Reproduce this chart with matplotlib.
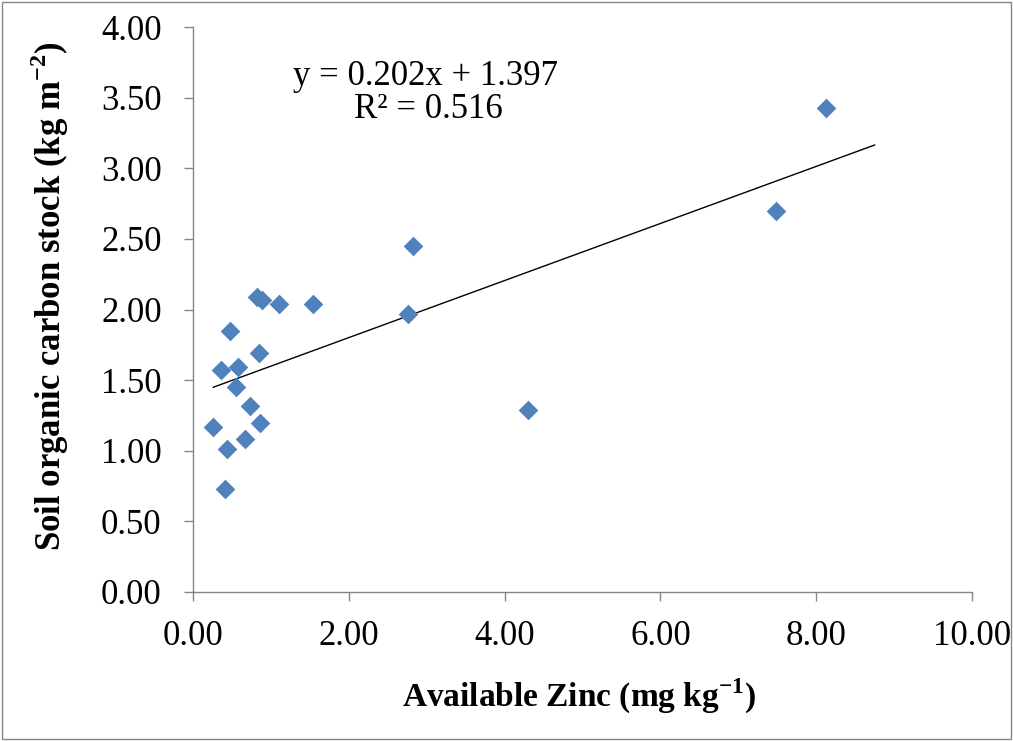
import matplotlib
matplotlib.use("Agg")
import matplotlib.pyplot as plt
import numpy as np
from matplotlib.patches import Rectangle

# Available zinc (mg/kg) and soil organic carbon stock (kg/m2)
zinc = [0.82, 0.88, 1.11, 1.54, 2.76, 0.47, 0.85, 0.36, 0.58, 0.55,
        0.73, 0.26, 0.86, 0.67, 0.44, 0.41, 8.13, 7.49, 2.82, 4.30]
soc = [2.09, 2.07, 2.04, 2.04, 1.97, 1.85, 1.69, 1.57, 1.59, 1.45,
       1.32, 1.17, 1.20, 1.08, 1.01, 0.73, 3.43, 2.70, 2.45, 1.29]

slope = 0.202
intercept = 1.397
r_squared = 0.516
trend_end = 8.75

x_ticks = [0, 2, 4, 6, 8, 10]
y_ticks = [0, 0.5, 1.0, 1.5, 2.0, 2.5, 3.0, 3.5, 4.0]

plt.rcParams['font.family'] = ['Liberation Serif', 'DejaVu Serif']
plt.rcParams['mathtext.fontset'] = 'custom'
plt.rcParams['mathtext.rm'] = 'Liberation Serif'
plt.rcParams['mathtext.bf'] = 'Liberation Serif:bold'

fig = plt.figure(figsize=(10.13, 7.41), dpi=100)
W, H = 1013, 741
ax = fig.add_axes([193 / W, 1 - 592 / H, (972 - 193) / W, (592 - 27) / H])

ax.scatter(zinc, soc, marker='D', s=100, color='#4F81BD', zorder=3, linewidths=0)

xt = np.array([min(zinc), trend_end])
ax.plot(xt, slope * xt + intercept, color='black', linewidth=1.0, zorder=2)

ax.set_xlim(0, 10)
ax.set_ylim(0, 4)
ax.set_xticks(x_ticks)
ax.set_yticks(y_ticks)
ax.set_xticklabels([f"{v:.2f}" for v in x_ticks])
ax.set_yticklabels([f"{v:.2f}" for v in y_ticks])

for side in ('top', 'right'):
    ax.spines[side].set_visible(False)
for side in ('left', 'bottom'):
    ax.spines[side].set_color('#868686')
    ax.spines[side].set_linewidth(1.0)

ax.tick_params(axis='both', direction='out', length=6.5, width=1.0,
               color='#868686', labelsize=25, labelcolor='black')
ax.tick_params(axis='x', pad=14)
ax.tick_params(axis='y', pad=16)

ax.set_xlabel("Available Zinc (mg kg$^{\\mathbf{-1}}$)", fontsize=24,
              fontweight='bold', va='center')
ax.xaxis.set_label_coords(0.495, -0.184)
ax.set_ylabel("Soil organic carbon stock (kg m$^{\\mathbf{-2}}$)", fontsize=25,
              fontweight='bold', va='center')
ax.yaxis.set_label_coords(-0.1836, 0.523)

ax.text(0.299, 0.897, f"y = {slope:.3f}x + {intercept:.3f}",
        transform=ax.transAxes, ha='center', va='baseline', fontsize=25)
ax.text(0.302, 0.839, f"R² = {r_squared:.3f}",
        transform=ax.transAxes, ha='center', va='baseline', fontsize=25)

fig.patches.append(Rectangle((0.002, 0.003), 0.996, 0.994, transform=fig.transFigure,
                             fill=False, edgecolor='#868686', linewidth=1.0))

fig.savefig("out.png", dpi=100)
